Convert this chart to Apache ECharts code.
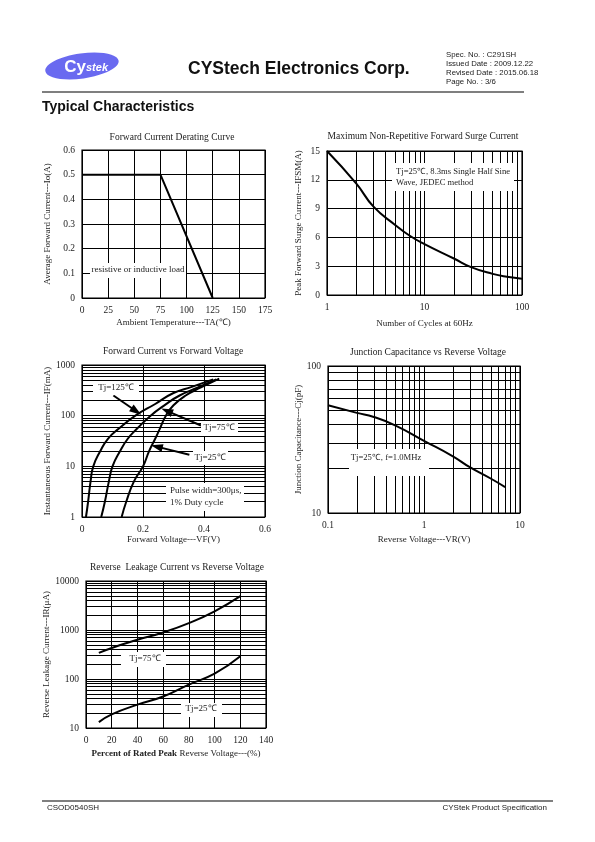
<!DOCTYPE html>
<html><head><meta charset="utf-8">
<script src="https://cdn.jsdelivr.net/npm/echarts@6/dist/echarts.min.js"></script>
<style>html,body{margin:0;padding:0;background:#fff}#c{width:595px;height:842px}</style>
</head><body><div id="c"></div>
<script>
// ---------- data ----------
const derateTemp = [0, 75, 125];
const derateCurrent = [0.5, 0.5, 0];

const surgeCycles = [1, 2, 3, 5, 7, 10, 20, 30, 50, 70, 100];
const surgeAmps = [15, 11.6, 9.2, 7.3, 6.2, 5.3, 3.8, 2.9, 2.2, 1.9, 1.7];

const vf125 = [0.013, 0.02, 0.028, 0.037, 0.06, 0.085, 0.12, 0.175, 0.24, 0.3, 0.36, 0.43];
const if125 = [1, 2, 5, 10, 20, 35, 55, 100, 170, 280, 370, 520];
const vf75 = [0.063, 0.075, 0.088, 0.1, 0.125, 0.15, 0.18, 0.225, 0.27, 0.32, 0.38, 0.44];
const if75 = [1, 2, 5, 10, 20, 35, 55, 100, 160, 250, 360, 520];
const vf25 = [0.13, 0.145, 0.17, 0.2, 0.22, 0.24, 0.255, 0.275, 0.3, 0.34, 0.39, 0.45];
const if25 = [1, 2, 5, 10, 20, 35, 55, 100, 160, 250, 360, 540];

const capVr = [0.1, 0.2, 0.3, 0.5, 1, 2, 3, 5, 7];
const capCj = [54, 48, 45, 39.5, 31, 24.3, 20.5, 17.1, 15];

const leakPct = [10, 20, 40, 60, 80, 100, 120];
const leak75 = [340, 430, 630, 890, 1380, 2400, 4900];
const leak25 = [13.2, 19, 30, 44, 77, 128, 290];

// log-grid minor line values
const minor1to100 = [2,3,4,5,6,7,8,9,20,30,40,50,60,70,80,90];
const minor1to1000 = [2,3,4,5,6,7,8,9,20,30,40,50,60,70,80,90,200,300,400,500,600,700,800,900];
const minor01to10 = [0.2,0.3,0.4,0.5,0.6,0.7,0.8,0.9,2,3,4,5,6,7,8,9];
const minor10to100 = [20,30,40,50,60,70,80,90];
const minor10to10000 = [20,30,40,50,60,70,80,90,200,300,400,500,600,700,800,900,2000,3000,4000,5000,6000,7000,8000,9000];

// ---------- helpers ----------
const F = 'Liberation Serif';
const TC = '#222';
const zip = (a, b) => a.map((v, i) => [v, b[i]]);
const gridLine = {show: true, lineStyle: {color: '#000', width: 1}};
const plain = v => String(+(+v).toPrecision(6));
function axis(gi, type, min, max, interval, name, gap, extra) {
  const o = {
    gridIndex: gi, type: type, min: min, max: max,
    axisLine: {show: false}, axisTick: {show: false},
    splitLine: gridLine,
    axisLabel: {fontFamily: F, fontSize: 9.5, color: TC, margin: 7, formatter: plain},
    name: name, nameLocation: 'middle', nameGap: gap,
    nameTextStyle: {fontFamily: F, fontSize: 9, color: TC}
  };
  if (type === 'log') o.logBase = 10; else o.interval = interval;
  return Object.assign(o, extra || {});
}
function minorMark(xs, ys) {
  return {
    silent: true, symbol: 'none', animation: false,
    label: {show: false},
    lineStyle: {color: '#000', width: 1, type: 'solid'},
    emphasis: {disabled: true},
    data: (xs || []).map(v => ({xAxis: v})).concat((ys || []).map(v => ({yAxis: v})))
  };
}
const curve = {type: 'line', symbol: 'none', lineStyle: {color: '#000', width: 2}, itemStyle: {color: '#000'}, silent: true};

function arrow(from, to) {
  return [{coord: from, symbol: 'none'}, {coord: to, symbol: 'triangle', symbolSize: [8, 12]}];
}

function txt(x, y, s, opt) {
  return Object.assign({type: 'text', x: x, y: y, z: 101,
    style: Object.assign({text: s, fill: TC, font: '9.5px "Liberation Serif"', align: 'center', verticalAlign: 'middle'}, opt || {})});
}
const ann = '9px "Liberation Serif"';
function box(x, y, w, h) {
  return {type: 'rect', z: 100, shape: {x: x, y: y, width: w, height: h}, style: {fill: '#fff'}};
}

const chart = echarts.init(document.getElementById('c'), null, {renderer: 'canvas'});
chart.setOption({
  animation: false,
  grid: [
    {left: 82, top: 150, width: 183, height: 148},
    {left: 327, top: 151, width: 195, height: 144},
    {left: 82, top: 365, width: 183, height: 152},
    {left: 328, top: 366, width: 192, height: 147},
    {left: 86, top: 581, width: 180, height: 147}
  ].map(g => Object.assign(g, {show: true, borderColor: '#000', borderWidth: 1.2, backgroundColor: 'transparent'})),
  xAxis: [
    axis(0, 'value', 0, 175, 25, 'Ambient Temperature---TA(\u2103)', 20),
    axis(1, 'log', 1, 100, null, 'Number of Cycles at 60Hz', 24),
    axis(2, 'value', 0, 0.6, 0.2, 'Forward Voltage---VF(V)', 18),
    axis(3, 'log', 0.1, 10, null, 'Reverse Voltage---VR(V)', 22),
    axis(4, 'value', 0, 140, 20, '', 21, {
      name: '{b|Percent of Rated Peak} Reverse Voltage---(%)',
      nameTextStyle: {fontFamily: F, fontSize: 9, color: TC,
        rich: {b: {fontFamily: F, fontSize: 9, fontWeight: 'bold', color: TC}}}
    })
  ],
  yAxis: [
    axis(0, 'value', 0, 0.6, 0.1, 'Average Forward Current---Io(A)', 30),
    axis(1, 'value', 0, 15, 3, 'Peak Forward Surge Current---IFSM(A)', 24),
    axis(2, 'log', 1, 1000, null, 'Instantaneous Forward Current---IF(mA)', 29),
    axis(3, 'log', 10, 100, null, 'Junction Capacitance---Cj(pF)', 24),
    axis(4, 'log', 10, 10000, null, 'Reverse Leakage Current---IR(\u03bcA)', 33)
  ],
  series: [
    Object.assign({}, curve, {xAxisIndex: 0, yAxisIndex: 0, data: zip(derateTemp, derateCurrent)}),
    Object.assign({}, curve, {xAxisIndex: 1, yAxisIndex: 1, smooth: true, data: zip(surgeCycles, surgeAmps),
      markLine: minorMark(minor1to100, [])}),
    Object.assign({}, curve, {xAxisIndex: 2, yAxisIndex: 2, smooth: true, data: zip(vf125, if125),
      markLine: minorMark([], minor1to1000)}),
    Object.assign({}, curve, {xAxisIndex: 2, yAxisIndex: 2, smooth: true, data: zip(vf75, if75),
      markLine: {silent: true, animation: false, label: {show: false},
        lineStyle: {color: '#000', width: 2, type: 'solid'}, emphasis: {disabled: true},
        data: [
          arrow([0.103, 250], [0.178, 122]),
          arrow([0.39, 64], [0.278, 124]),
          arrow([0.352, 17], [0.245, 24.5])
        ]}}),
    Object.assign({}, curve, {xAxisIndex: 2, yAxisIndex: 2, smooth: true, data: zip(vf25, if25)}),
    Object.assign({}, curve, {xAxisIndex: 3, yAxisIndex: 3, smooth: true, data: zip(capVr, capCj),
      markLine: minorMark(minor01to10, minor10to100)}),
    Object.assign({}, curve, {xAxisIndex: 4, yAxisIndex: 4, smooth: true, data: zip(leakPct, leak75),
      markLine: minorMark([], minor10to10000)}),
    Object.assign({}, curve, {xAxisIndex: 4, yAxisIndex: 4, smooth: true, data: zip(leakPct, leak25)})
  ],
  graphic: [
    // header
    {type: 'ellipse', x: 82, y: 66, rotation: 0.14, shape: {cx: 0, cy: 0, rx: 37, ry: 12.5}, style: {fill: '#6a6af0'}},
    {type: 'text', x: 86, y: 67, style: {text: 'Cy', fill: '#fff', font: 'bold 17px "Liberation Sans"', align: 'right', verticalAlign: 'middle'}},
    {type: 'text', x: 86, y: 68, style: {text: 'stek', fill: '#fff', font: 'italic bold 11px "Liberation Sans"', align: 'left', verticalAlign: 'middle'}},
    {type: 'text', x: 188, y: 69, style: {text: 'CYStech Electronics Corp.', fill: '#111', font: 'bold 17.5px "Liberation Sans"', align: 'left', verticalAlign: 'middle'}},
    {type: 'text', x: 446, y: 55, style: {text: 'Spec. No. : C291SH', fill: '#222', font: '7.8px "Liberation Sans"', verticalAlign: 'middle'}},
    {type: 'text', x: 446, y: 64, style: {text: 'Issued Date : 2009.12.22', fill: '#222', font: '7.8px "Liberation Sans"', verticalAlign: 'middle'}},
    {type: 'text', x: 446, y: 73, style: {text: 'Revised Date : 2015.06.18', fill: '#222', font: '7.8px "Liberation Sans"', verticalAlign: 'middle'}},
    {type: 'text', x: 446, y: 82, style: {text: 'Page No. : 3/6', fill: '#222', font: '7.8px "Liberation Sans"', verticalAlign: 'middle'}},
    {type: 'line', shape: {x1: 42, y1: 92, x2: 524, y2: 92}, style: {stroke: '#000', lineWidth: 1.2}},
    {type: 'text', x: 42, y: 107, style: {text: 'Typical Characteristics', fill: '#111', font: 'bold 14px "Liberation Sans"', verticalAlign: 'middle'}},
    // footer
    {type: 'line', shape: {x1: 42, y1: 801, x2: 553, y2: 801}, style: {stroke: '#000', lineWidth: 1.2}},
    {type: 'text', x: 47, y: 808, style: {text: 'CSOD0540SH', fill: '#222', font: '8px "Liberation Sans"', verticalAlign: 'middle'}},
    {type: 'text', x: 547, y: 808, style: {text: 'CYStek Product Specification', fill: '#222', font: '8px "Liberation Sans"', align: 'right', verticalAlign: 'middle'}},
    // chart titles
    txt(172, 137, 'Forward Current Derating Curve'),
    txt(423, 136, 'Maximum Non-Repetitive Forward Surge Current'),
    txt(173, 351, 'Forward Current vs Forward Voltage'),
    txt(428, 352, 'Junction Capacitance vs Reverse Voltage'),
    txt(177, 567, 'Reverse  Leakage Current vs Reverse Voltage'),
    // annotations
    box(90, 263, 96, 15), txt(138, 270, 'resistive or inductive load', {font: ann}),
    box(392, 163, 122, 28),
    txt(396, 172, 'Tj=25\u2103, 8.3ms Single Half Sine', {align: 'left', font: '8.6px "Liberation Serif"'}),
    txt(396, 183, 'Wave, JEDEC method', {align: 'left', font: '8.6px "Liberation Serif"'}),
    box(93, 381, 46, 14), txt(116, 388, 'Tj=125\u2103', {font: ann}),
    box(201, 421, 37, 15), txt(219, 428, 'Tj=75\u2103', {font: ann}),
    box(193, 451, 35, 14), txt(210, 458, 'Tj=25\u2103', {font: ann}),
    box(166, 483, 78, 28),
    txt(170, 491, 'Pulse width=300\u03bcs,', {align: 'left', font: ann}),
    txt(170, 503, '1% Duty cycle', {align: 'left', font: ann}),
    box(349, 449, 80, 27), txt(386, 458, 'Tj=25\u2103, f=1.0MHz', {font: '8.6px "Liberation Serif"'}),
    box(121, 652, 45, 15), txt(145, 659, 'Tj=75\u2103', {font: ann}),
    box(181, 703, 41, 14), txt(201, 709, 'Tj=25\u2103', {font: ann})
  ]
});
</script></body></html>
